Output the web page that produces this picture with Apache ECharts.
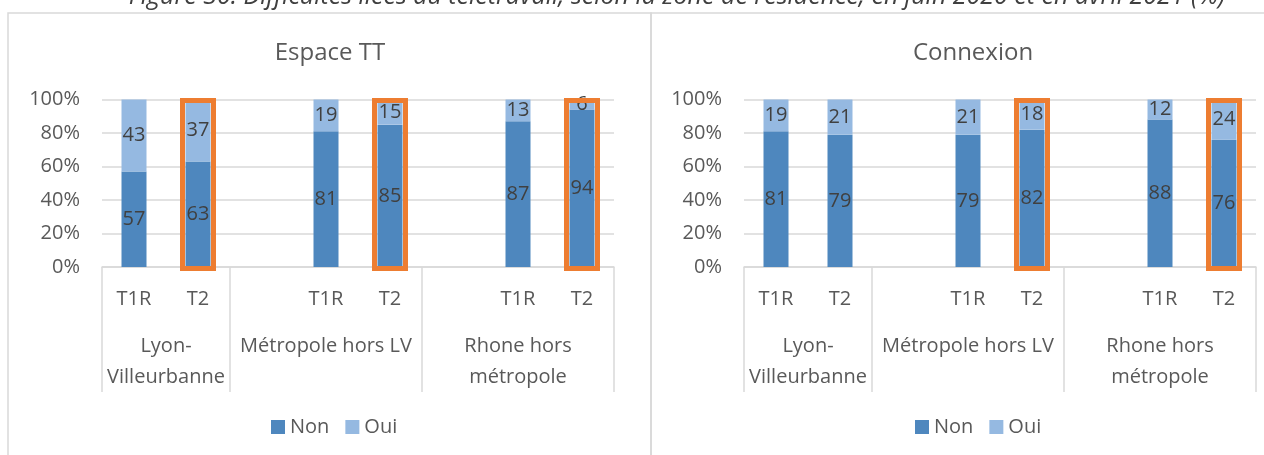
<!DOCTYPE html>
<html>
<head>
<meta charset="utf-8">
<script src="https://cdn.jsdelivr.net/npm/echarts@6/dist/echarts.min.js"></script>
<style>
    html, body { margin: 0; padding: 0; background: #fff; }
    #main { width: 1264px; height: 455px; }
</style>
</head>
<body>
<div id="main"></div>
<script>
// catégories (une case vide entre les zones)
var categories = ['T1R', 'T2', '', 'T1R', 'T2', '', 'T1R', 'T2'];
var groupNames = ['Lyon-\nVilleurbanne', 'Métropole hors LV', 'Rhone hors\nmétropole'];
var groupBounds = [0, 2, 5, 8];
var yTicks = [0, 20, 40, 60, 80, 100];

// Espace TT
var espaceNon = [57, 63, null, 81, 85, null, 87, 94];
var espaceOui = [43, 37, null, 19, 15, null, 13, 6];
var espaceBox = [1, 4, 7];

// Connexion
var connexionNon = [81, 79, null, 79, 82, null, 88, 76];
var connexionOui = [19, 21, null, 21, 18, null, 12, 24];
var connexionBox = [4, 7];

var FONT = 'Open Sans';
var TXT = '#595959';
var GRID = '#d9d9d9';
var BLUE = '#4E87BE';
var LIGHT = '#95B9E1';
var ORANGE = '#ED7D31';

var myChart = echarts.init(document.getElementById('main'));

// séparateurs et libellés des zones sous l'axe
function groupData() {
    var d = [];
    for (var i = 0; i < groupNames.length; i++) {
        d.push([groupBounds[i], 0, groupBounds[i + 1], i]);
    }
    return d;
}
function renderGroup(params, api) {
    var start = api.value(0), end = api.value(2), g = api.value(3);
    var band = api.size([1, 0])[0];
    var p0 = api.coord([start, 0]);
    var p1 = api.coord([end - 1, 0]);
    var left = p0[0] - band / 2, right = p1[0] + band / 2, y0 = p0[1];
    var lineStyle = { stroke: GRID, lineWidth: 1.5 };
    var children = [
        { type: 'line', shape: { x1: left, y1: y0, x2: left, y2: y0 + 125 }, style: lineStyle },
        {
            type: 'text',
            style: {
                text: groupNames[g], x: (left + right) / 2, y: y0 + 64,
                align: 'center', verticalAlign: 'top',
                fill: TXT, fontSize: 20, fontFamily: FONT, lineHeight: 31
            }
        }
    ];
    if (g === groupNames.length - 1) {
        children.push({ type: 'line', shape: { x1: right, y1: y0, x2: right, y2: y0 + 125 }, style: lineStyle });
    }
    return { type: 'group', children: children };
}
// cadre orange autour des barres T2
function renderBox(params, api) {
    var top = api.coord([api.value(0), 100]);
    var bottom = api.coord([api.value(0), 0]);
    return {
        type: 'rect',
        shape: { x: top[0] - 15.5, y: top[1] + 1, width: 31, height: bottom[1] - top[1] + 0.5 },
        style: { fill: 'none', stroke: ORANGE, lineWidth: 5 }
    };
}
function boxData(list) {
    return list.map(function (i) { return [i, 100]; });
}

function xAxisFor(gi) {
    return {
        type: 'category', gridIndex: gi, data: categories,
        axisLine: { lineStyle: { color: GRID, width: 1.5 } },
        axisTick: { show: false },
        axisLabel: { interval: 0, color: TXT, fontSize: 20, fontFamily: FONT, margin: 22 }
    };
}
function yAxisFor(gi) {
    return {
        type: 'value', gridIndex: gi, min: yTicks[0], max: yTicks[yTicks.length - 1], interval: 20,
        axisLine: { show: false }, axisTick: { show: false },
        axisLabel: { color: TXT, fontSize: 20, fontFamily: FONT, margin: 22, formatter: '{value}%' },
        splitLine: { lineStyle: { color: GRID, width: 1.5 } }
    };
}
function barSeries(name, data, gi, color) {
    return {
        name: name, type: 'bar', stack: 'p' + gi, xAxisIndex: gi, yAxisIndex: gi,
        data: data, barWidth: 25,
        itemStyle: { color: color },
        label: { show: true, position: 'inside', color: '#404040', fontSize: 20, fontFamily: FONT },
        emphasis: { disabled: true }
    };
}
function legendFor(left) {
    return {
        data: ['Non', 'Oui'], left: left, top: 412, icon: 'rect',
        itemWidth: 14, itemHeight: 14, itemGap: 16,
        textStyle: { color: TXT, fontSize: 20, fontFamily: FONT }
    };
}

var option = {
    animation: false,
    textStyle: { fontFamily: FONT },
    title: [
        { text: 'Espace TT', left: 325, top: 36, textAlign: 'center', textStyle: { color: TXT, fontSize: 24, fontWeight: 'normal', fontFamily: FONT } },
        { text: 'Connexion', left: 968, top: 36, textAlign: 'center', textStyle: { color: TXT, fontSize: 24, fontWeight: 'normal', fontFamily: FONT } }
    ],
    graphic: [
        { type: 'rect', shape: { x: 8, y: 13, width: 643, height: 470 }, style: { fill: 'none', stroke: GRID, lineWidth: 1.5 }, silent: true },
        { type: 'rect', shape: { x: 651, y: 13, width: 650, height: 470 }, style: { fill: 'none', stroke: GRID, lineWidth: 1.5 }, silent: true },
        {
            type: 'text', x: 677, y: -3, silent: true,
            style: {
                text: 'Figure 30. Difficultés liées au télétravail, selon la zone de résidence, en juin 2020 et en avril 2021 (%)',
                align: 'center', verticalAlign: 'middle', fill: '#404040',
                fontSize: 25, fontStyle: 'italic', fontFamily: FONT
            }
        }
    ],
    legend: [legendFor(266), legendFor(910)],
    grid: [
        { left: 102, right: 650, top: 99.5, bottom: 188 },
        { left: 744, right: 8, top: 99.5, bottom: 188 }
    ],
    xAxis: [xAxisFor(0), xAxisFor(1)],
    yAxis: [yAxisFor(0), yAxisFor(1)],
    series: [
        barSeries('Non', espaceNon, 0, BLUE),
        barSeries('Oui', espaceOui, 0, LIGHT),
        barSeries('Non', connexionNon, 1, BLUE),
        barSeries('Oui', connexionOui, 1, LIGHT),
        { type: 'custom', xAxisIndex: 0, yAxisIndex: 0, renderItem: renderGroup, data: groupData(), encode: { x: 0, y: 1 }, clip: false, silent: true, z: 1 },
        { type: 'custom', xAxisIndex: 1, yAxisIndex: 1, renderItem: renderGroup, data: groupData(), encode: { x: 0, y: 1 }, clip: false, silent: true, z: 1 },
        { type: 'custom', xAxisIndex: 0, yAxisIndex: 0, renderItem: renderBox, data: boxData(espaceBox), encode: { x: 0, y: 1 }, clip: false, silent: true, z: 5 },
        { type: 'custom', xAxisIndex: 1, yAxisIndex: 1, renderItem: renderBox, data: boxData(connexionBox), encode: { x: 0, y: 1 }, clip: false, silent: true, z: 5 }
    ]
};
myChart.setOption(option);
</script>
</body>
</html>
